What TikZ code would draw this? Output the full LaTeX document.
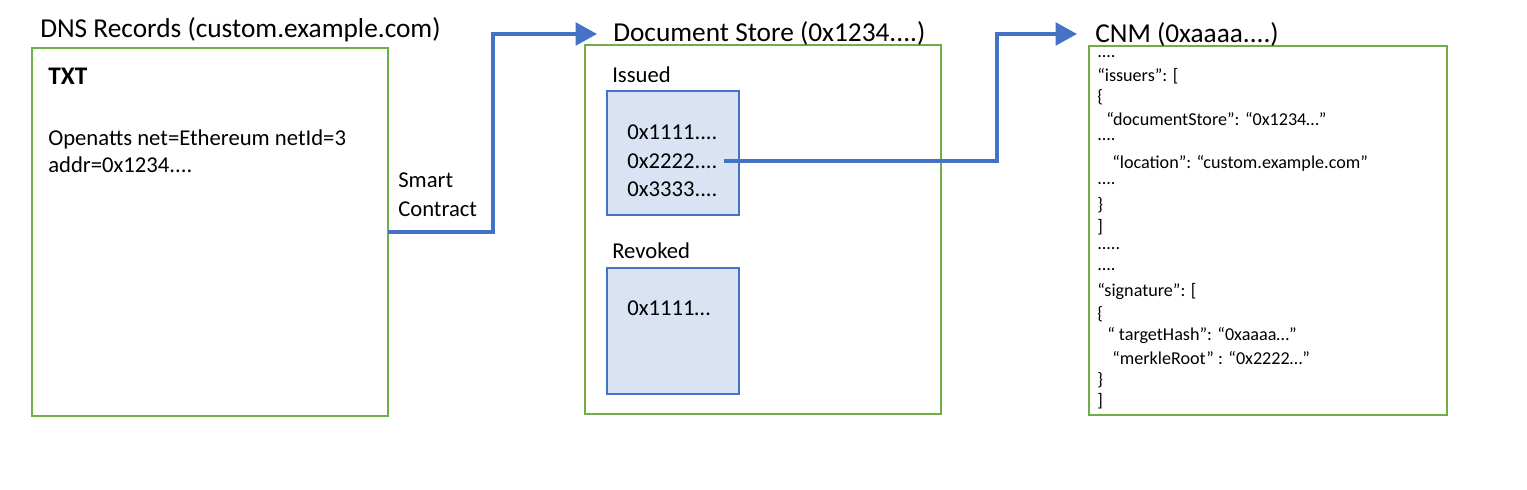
\documentclass[tikz,border=0pt]{standalone}
\usepackage{fontspec}
\setmainfont{Carlito}
\usetikzlibrary{arrows.meta}
\definecolor{grn}{HTML}{70AD47}
\definecolor{blu}{HTML}{4472C4}
\definecolor{lblu}{HTML}{DAE3F3}
\begin{document}
\begin{tikzpicture}[x=0.75pt,y=-0.75pt,
  gbox/.style={draw=grn,line width=1.5pt},
  bbox/.style={draw=blu,fill=lblu,line width=1.1pt},
  conn/.style={draw=blu,line width=2.4pt,-{Triangle[length=16pt,width=17pt]}},
  title/.style={anchor=west,inner sep=0pt,font=\fontsize{20.5}{23}\selectfont},
  txt/.style={anchor=west,inner sep=0pt,font=\fontsize{17}{19}\selectfont},
  sm/.style={anchor=west,inner sep=0pt,font=\fontsize{13.6}{15}\selectfont}]
\useasboundingbox (0,0) rectangle (1527,489);
% boxes
\draw[gbox] (32,48) rectangle (388,416);
\draw[gbox] (585,45) rectangle (941,414);
\draw[bbox] (607,91) rectangle (739,215);
\draw[bbox] (607,268) rectangle (739,394);
\draw[gbox] (1089,46) rectangle (1447,415);
% titles
\node[title] (t1) at (40,30) {DNS Records (custom.example.com)};
\node[title] (t2) at (613,33) {Document Store (0x1234....)};
\node[title] (t3) at (1095,34) {CNM (0xaaaa....)};
% DNS text
\node[anchor=west,inner sep=0pt,font=\fontsize{19}{21}\selectfont\bfseries] (txt) at (48,76) {TXT};
\node[txt] (l1) at (48,139) {Openatts net=Ethereum netId=3};
\node[txt] (l2) at (48,165) {addr=0x1234....};
\node[txt] (sm1) at (398,180) {Smart};
\node[txt] (sm2) at (398,209) {Contract};
% doc store text
\node[txt] (iss) at (612,75) {Issued};
\node[txt] (h1) at (627,132) {0x1111....};
\node[txt] (h2) at (627,161) {0x2222....};
\node[txt] (h3) at (627,189) {0x3333....};
\node[txt] (rev) at (612,251) {Revoked};
\node[txt] (r1) at (627,308) {0x1111…};
% CNM text
\node[sm] (c1) at (1097,57) {....};
\node[sm] (c2) at (1097,76) {“issuers”: [};
\node[sm] (c3) at (1097,97) {\{};
\node[sm] (c4) at (1106,119) {“documentStore”: “0x1234…”};
\node[sm] (c5) at (1097,140) {....};
\node[sm] (c6) at (1112,163) {“location”: “custom.example.com”};
\node[sm] (c7) at (1097,184) {....};
\node[sm] (c8) at (1097,205) {\}};
\node[sm] (c9) at (1097,227) {]};
\node[sm] (c10) at (1097,249) {.....};
\node[sm] (c11) at (1097,270) {....};
\node[sm] (c12) at (1097,292) {“signature”: [};
\node[sm] (c13) at (1097,314) {\{};
\node[sm] (c14) at (1107,336) {“ targetHash”: “0xaaaa…”};
\node[sm] (c15) at (1112,358) {“merkleRoot” : “0x2222…”};
\node[sm] (c16) at (1097,380) {\}};
\node[sm] (c17) at (1097,401) {]};
% connectors
\coordinate (a0) at (388,232);
\coordinate (a1) at (597,34);
\draw[conn] (a0) -- (493,232) -- (493,34) -- (a1);
\coordinate (b0) at (724,161);
\coordinate (b1) at (1077,34);
\draw[conn] (b0) -- (997,161) -- (997,34) -- (b1);
\end{tikzpicture}
\end{document}
